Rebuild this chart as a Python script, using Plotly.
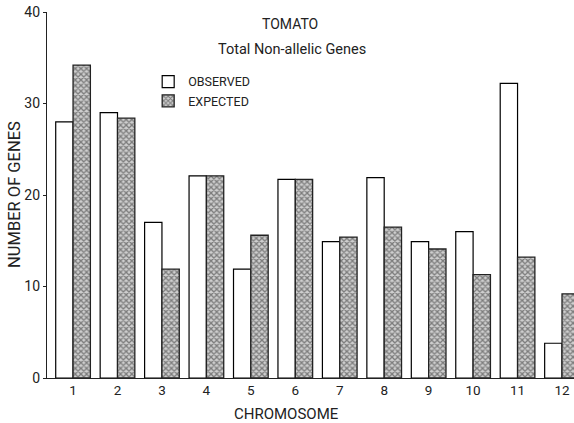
import plotly.graph_objects as go

chromosomes = [1, 2, 3, 4, 5, 6, 7, 8, 9, 10, 11, 12]
tick_labels = ["1", "2", "3", "4", "5", "6", "7", "8", "9", "10", "11", "12"]
observed = [28.0, 29.0, 17.0, 22.1, 11.9, 21.7, 14.9, 21.9, 14.9, 16.0, 32.2, 3.8]
expected = [34.2, 28.4, 11.9, 22.1, 15.6, 21.7, 15.4, 16.5, 14.1, 11.3, 13.2, 9.2]

FONT = "Roboto, sans-serif"

W, H = 574, 423
L, R, T, B = 47, 0, 12, 45

fig = go.Figure()
fig.add_trace(go.Bar(
    x=chromosomes, y=observed, name="OBSERVED",
    marker=dict(color="white", line=dict(color="black", width=1.2)),
))
fig.add_trace(go.Bar(
    x=chromosomes, y=expected, name="EXPECTED",
    marker=dict(color="#bdbdbd", line=dict(color="#222", width=1.3),
                pattern=dict(shape="x", size=4, solidity=0.55,
                             fgcolor="#2a2a2a", bgcolor="#cfcfcf")),
))

# annotations given as (text, px, py, size, angle) in page pixels
ann_specs = [
    ("TOMATO", 290, 24, 14, 0),
    ("Total Non-allelic Genes", 292, 49, 14.5, 0),
    ("NUMBER OF GENES", 14, 195, 16.5, -90),
    ("CHROMOSOME", 286, 414, 15, 0),
]
pw, ph = W - L - R, H - T - B
annotations = [
    dict(text=t, x=(px - L) / pw, y=(H - B - py) / ph, xref="paper", yref="paper",
         xanchor="center", yanchor="middle", textangle=ang, showarrow=False,
         font=dict(size=s))
    for t, px, py, s, ang in ann_specs
]

fig.update_layout(
    width=W, height=H,
    margin=dict(l=L, r=R, t=T, b=B),
    paper_bgcolor="white", plot_bgcolor="white",
    barmode="group", bargap=0.22, bargroupgap=0,
    font=dict(family=FONT, color="#222", size=14),
    showlegend=True,
    legend=dict(x=0.192, y=0.850, xanchor="left", yanchor="top",
                bgcolor="rgba(0,0,0,0)", font=dict(size=12.5, family=FONT),
                tracegroupgap=7),
    xaxis=dict(range=[0.414, 12.27], tickmode="array", tickvals=chromosomes,
               ticktext=tick_labels, showgrid=False, zeroline=False,
               showline=True, linecolor="#222", linewidth=1.2,
               ticks="", tickfont=dict(size=13.5)),
    yaxis=dict(range=[0, 40], tickvals=[0, 10, 20, 30, 40], showgrid=False,
               zeroline=False, showline=True, linecolor="#222", linewidth=1.2,
               ticks="outside", ticklen=3, tickcolor="#222",
               tickfont=dict(size=14)),
    annotations=annotations,
)

fig.write_html("out.html", config={"displayModeBar": False},
               post_script="document.body.style.margin='0';")
